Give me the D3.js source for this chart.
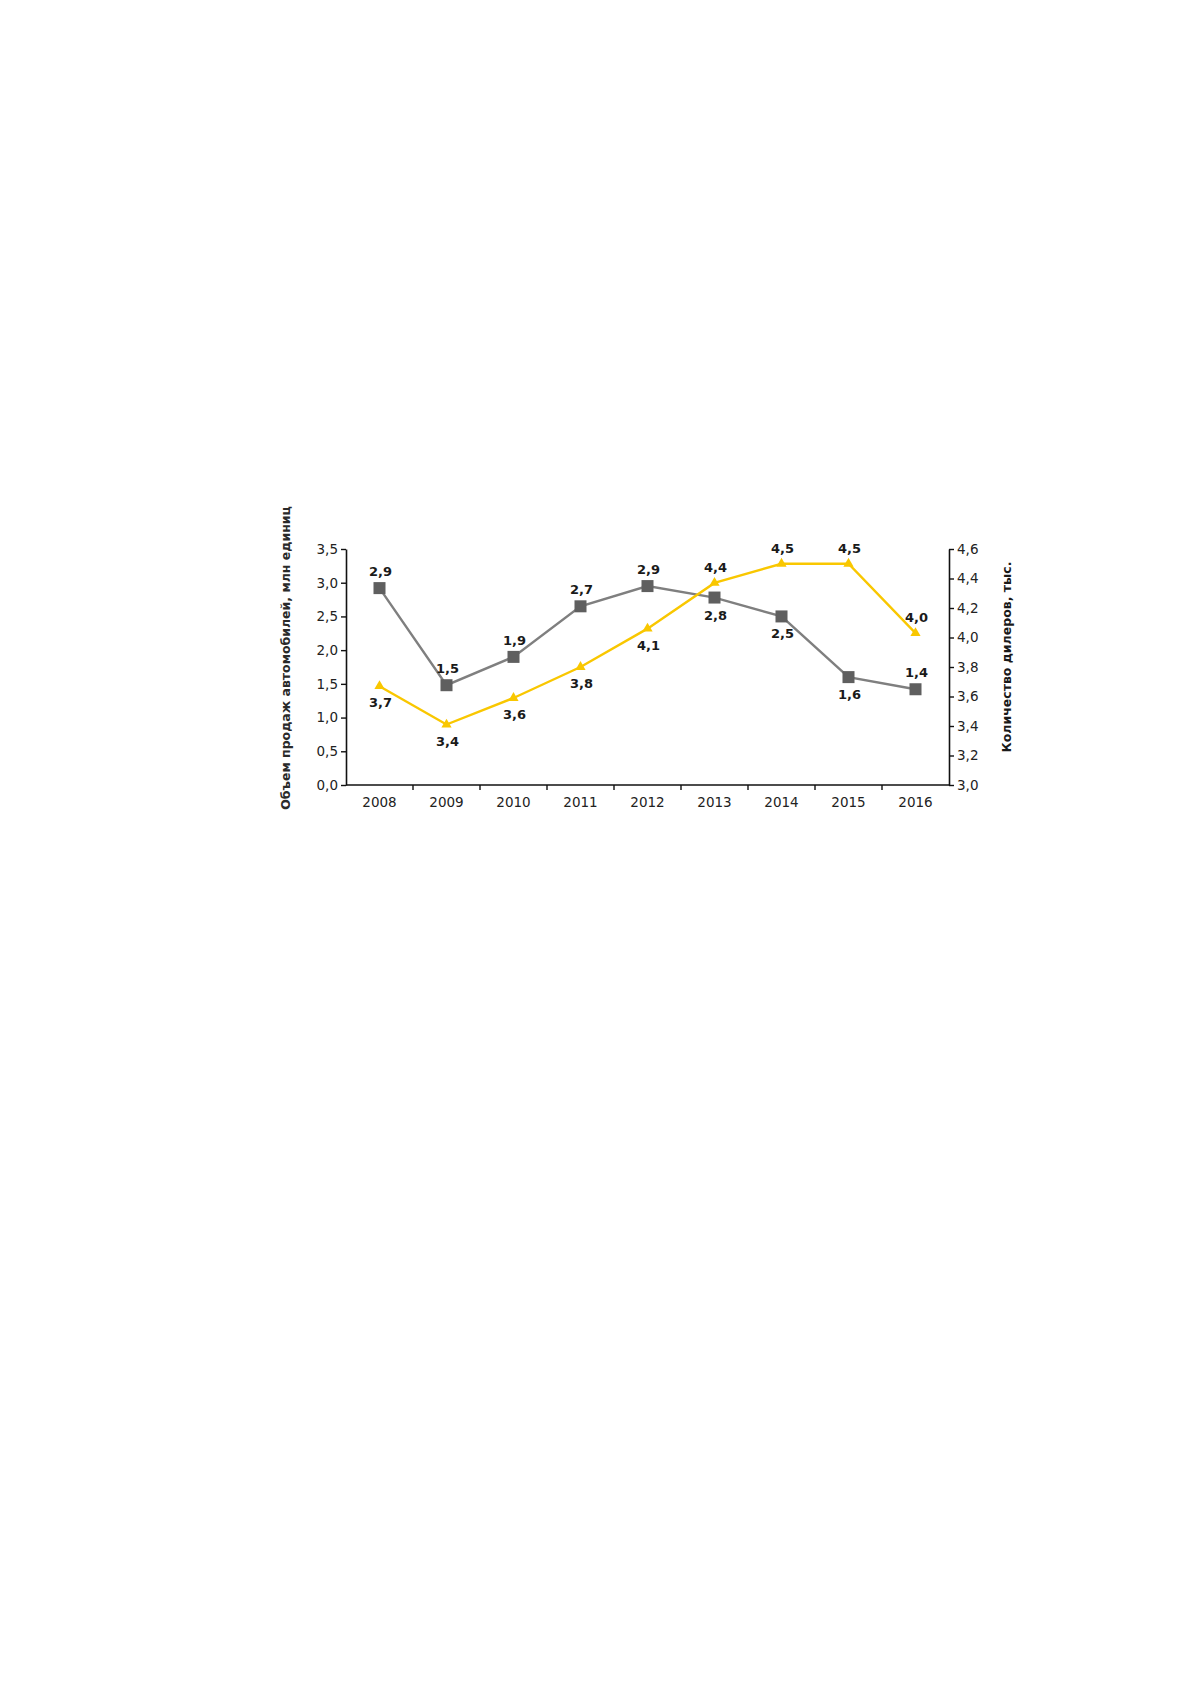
<!DOCTYPE html>
<html>
<head>
<meta charset="utf-8">
<script src="https://cdn.jsdelivr.net/npm/d3@7"></script>
<style>
  body { margin: 0; background: #fff; }
  svg { display: block; }
  text { font-family: "DejaVu Sans", Verdana, sans-serif; }
</style>
</head>
<body>
<svg id="chart"></svg>
<script>
const years = ['2008', '2009', '2010', '2011', '2012', '2013', '2014', '2015', '2016'];
// продажи, млн единиц (левая ось)
const sales = [2.92, 1.48, 1.9, 2.65, 2.95, 2.78, 2.5, 1.6, 1.42];
const salesLabels = ['2,9', '1,5', '1,9', '2,7', '2,9', '2,8', '2,5', '1,6', '1,4'];
const salesBelow = [false, false, false, false, false, true, true, true, false];
// дилеры, тыс. (правая ось)
const dealers = [3.67, 3.41, 3.59, 3.8, 4.06, 4.37, 4.5, 4.5, 4.03];
const dealersLabels = ['3,7', '3,4', '3,6', '3,8', '4,1', '4,4', '4,5', '4,5', '4,0'];
const dealersBelow = [true, true, true, true, true, false, false, false, false];
const leftTicks = [0, 0.5, 1, 1.5, 2, 2.5, 3, 3.5];
const rightTicks = [3.0, 3.2, 3.4, 3.6, 3.8, 4.0, 4.2, 4.4, 4.6];

const width = 1191;
const height = 1684;
const plot = { left: 346, right: 949, top: 549, bottom: 785 };

const svg = d3.select('#chart').attr('width', width).attr('height', height);

const x = d3.scaleBand().domain(years).range([plot.left, plot.right]);
const yL = d3.scaleLinear().domain([0, 3.5]).range([plot.bottom, plot.top]);
const yR = d3.scaleLinear().domain([3.0, 4.6]).range([plot.bottom, plot.top]);
const fmt = d => d3.format('.1f')(d).replace('.', ',');
const cx = i => x(years[i]) + x.bandwidth() / 2;

// axes
const styleAxis = g => {
    g.select('.domain').attr('stroke', '#111').attr('stroke-width', 1.6);
    g.selectAll('.tick line').attr('stroke', '#111').attr('stroke-width', 1.4);
    g.selectAll('.tick text').attr('fill', '#222').style('font-size', '13.5px')
        .style('font-family', '"DejaVu Sans", Verdana, sans-serif');
};

svg.append('g')
    .attr('transform', `translate(${plot.left},0)`)
    .call(d3.axisLeft(yL).tickValues(leftTicks).tickFormat(fmt).tickSize(5).tickPadding(3).tickSizeOuter(0))
    .call(styleAxis);

svg.append('g')
    .attr('transform', `translate(${plot.right},0)`)
    .call(d3.axisRight(yR).tickValues(rightTicks).tickFormat(fmt).tickSize(5).tickPadding(3).tickSizeOuter(0))
    .call(styleAxis);

const xAxis = svg.append('g')
    .attr('transform', `translate(0,${plot.bottom})`)
    .call(d3.axisBottom(x).tickSize(0).tickPadding(12))
    .call(styleAxis);
xAxis.select('.domain').attr('d', `M${plot.left},0H${plot.right}`);
// tick marks between categories
svg.append('g').selectAll('line')
    .data(years.slice(1))
    .join('line')
    .attr('x1', d => x(d)).attr('x2', d => x(d))
    .attr('y1', plot.bottom).attr('y2', plot.bottom + 5)
    .attr('stroke', '#111').attr('stroke-width', 1.4);

// axis titles
svg.append('text')
    .attr('transform', `translate(290,${(plot.top + plot.bottom) / 2 - 9}) rotate(-90)`)
    .attr('text-anchor', 'middle')
    .style('font-size', '12.5px').style('font-weight', 'bold').attr('fill', '#2a2a2a')
    .text('Объем продаж автомобилей, млн единиц');

svg.append('text')
    .attr('transform', `translate(1011,${(plot.top + plot.bottom) / 2 - 10}) rotate(-90)`)
    .attr('text-anchor', 'middle')
    .style('font-size', '12.5px').style('font-weight', 'bold').attr('fill', '#1a1a1a')
    .text('Количество дилеров, тыс.');

// gray series
const lineL = d3.line().x((d, i) => cx(i)).y(d => yL(d));
svg.append('path')
    .attr('d', lineL(sales))
    .attr('fill', 'none').attr('stroke', '#7f7f7f').attr('stroke-width', 2.4);

svg.append('g').selectAll('rect')
    .data(sales)
    .join('rect')
    .attr('x', (d, i) => cx(i) - 6).attr('y', d => yL(d) - 6)
    .attr('width', 12).attr('height', 12)
    .attr('fill', '#5f5f5f');

// yellow series
const lineR = d3.line().x((d, i) => cx(i)).y(d => yR(d));
svg.append('path')
    .attr('d', lineR(dealers))
    .attr('fill', 'none').attr('stroke', '#f9c700').attr('stroke-width', 2.4);

svg.append('g').selectAll('path')
    .data(dealers)
    .join('path')
    .attr('transform', (d, i) => `translate(${cx(i)},${yR(d)})`)
    .attr('d', d3.symbol().type(d3.symbolTriangle).size(45))
    .attr('fill', '#f9c700');

// data labels
const labelStyle = sel => sel
    .attr('text-anchor', 'middle')
    .style('font-size', '13px').style('font-weight', 'bold').attr('fill', '#1a1a1a');

svg.append('g').selectAll('text')
    .data(sales)
    .join('text')
    .attr('x', (d, i) => cx(i) + 1)
    .attr('y', (d, i) => yL(d) + (salesBelow[i] ? 22 : -12))
    .text((d, i) => salesLabels[i])
    .call(labelStyle);

svg.append('g').selectAll('text')
    .data(dealers)
    .join('text')
    .attr('x', (d, i) => cx(i) + 1)
    .attr('y', (d, i) => yR(d) + (dealersBelow[i] ? 21 : -11))
    .text((d, i) => dealersLabels[i])
    .call(labelStyle);
</script>
</body>
</html>
